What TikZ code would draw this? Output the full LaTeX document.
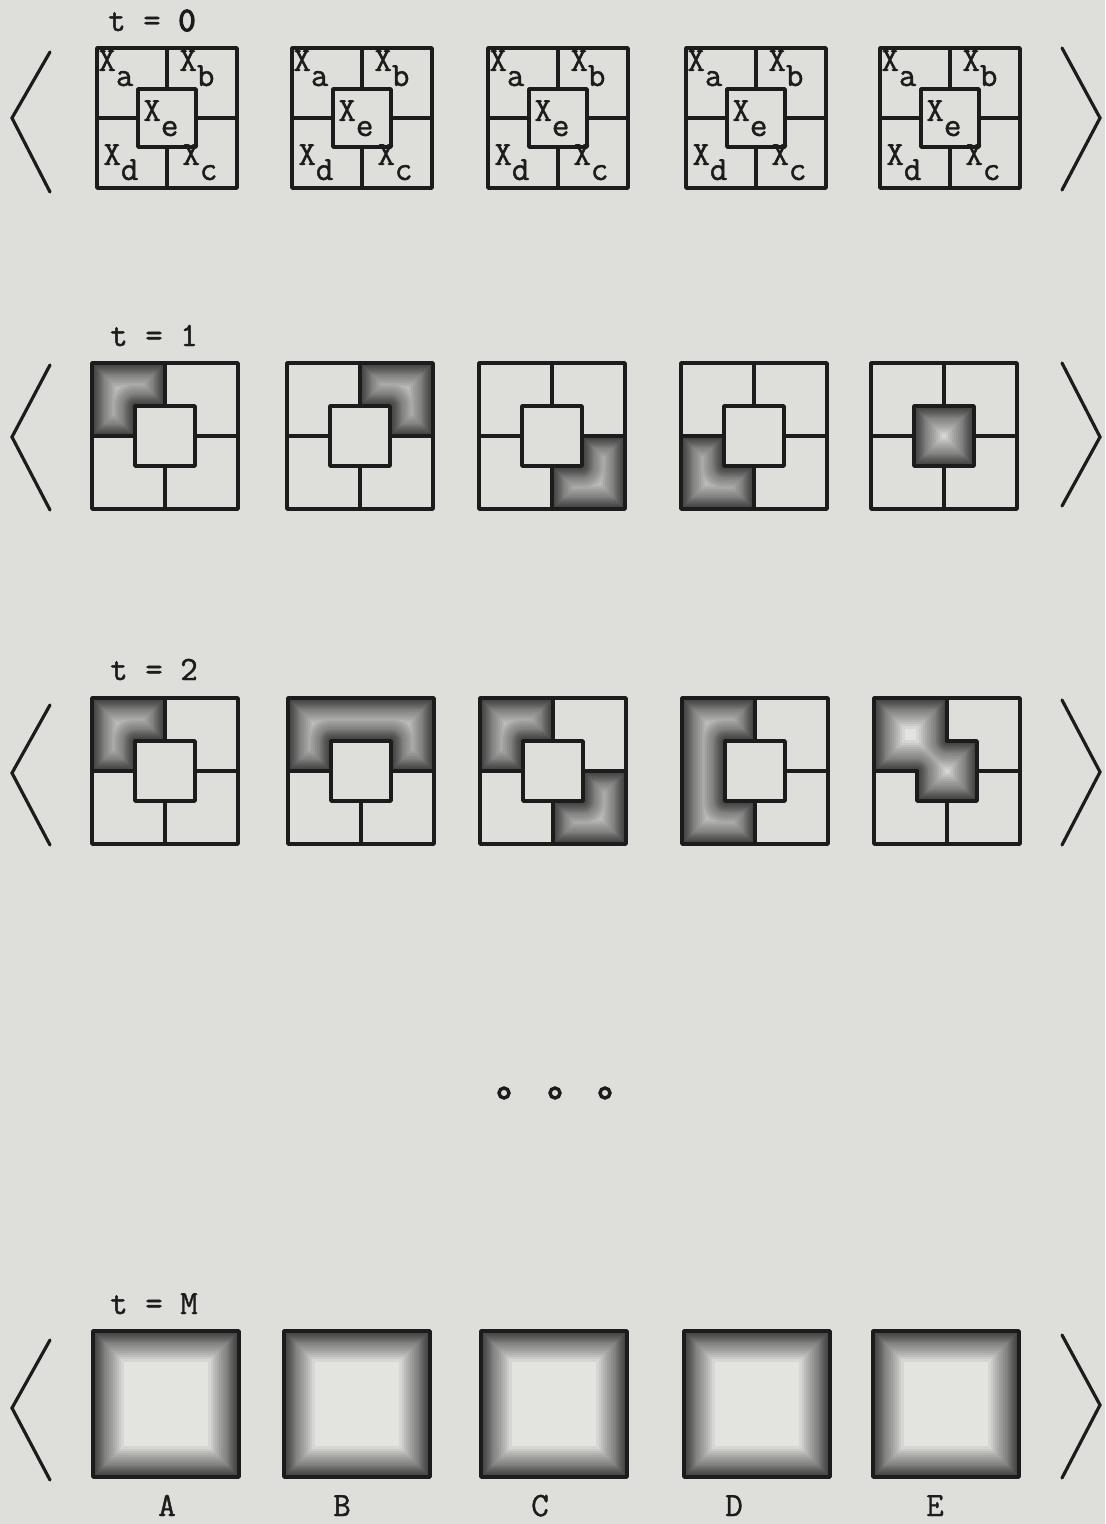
\documentclass[tikz,border=0pt]{standalone}
\usepackage{fontspec}
\newfontfamily\twfont{Latin Modern Mono}[FakeBold=1.2]
\newfontfamily\twbold{Latin Modern Mono}[FakeBold=4]
\definecolor{paper}{RGB}{222,222,218}
\definecolor{ink}{RGB}{28,28,28}
\tikzset{
  frame/.style={draw=ink, line width=1.8pt, line cap=round, line join=round},
  chev/.style={draw=ink, line width=1.6pt, line cap=round, line join=miter},
  lbl/.style={font=\fontsize{17}{19}\selectfont\twfont, text=ink, inner sep=0pt},
  ring/.style={circle, draw=ink, line width=1.7pt, minimum size=5pt, inner sep=0pt},
}
\def\Hh{73}
\def\Ss{30}
% inner-shadow shading of a region
\newcommand\Shd[1]{%
  \begin{scope}
    \clip #1;
    \fill[paper!85!white] #1;
    \foreach \w in {1,2,3,4,5,6,7,8,9,10,11,12,14,16,18,20,22,24,26,28,31}{%
      \draw[line width=\w pt, draw=black, draw opacity=0.056, line join=round] #1;}
  \end{scope}}
\newcommand\ShTL{\Shd{(-\Hh,-\Hh) -- (0,-\Hh) -- (0,-\Ss) -- (-\Ss,-\Ss) -- (-\Ss,0) -- (-\Hh,0) -- cycle}}
\newcommand\ShTR{\Shd{(0,-\Hh) -- (\Hh,-\Hh) -- (\Hh,0) -- (\Ss,0) -- (\Ss,-\Ss) -- (0,-\Ss) -- cycle}}
\newcommand\ShBR{\Shd{(\Ss,0) -- (\Hh,0) -- (\Hh,\Hh) -- (0,\Hh) -- (0,\Ss) -- (\Ss,\Ss) -- cycle}}
\newcommand\ShBL{\Shd{(-\Hh,0) -- (-\Ss,0) -- (-\Ss,\Ss) -- (0,\Ss) -- (0,\Hh) -- (-\Hh,\Hh) -- cycle}}
\newcommand\ShE{\Shd{(-\Ss,-\Ss) -- (\Ss,-\Ss) -- (\Ss,\Ss) -- (-\Ss,\Ss) -- cycle}}
\newcommand\ShTop{\Shd{(-\Hh,-\Hh) -- (\Hh,-\Hh) -- (\Hh,0) -- (\Ss,0) -- (\Ss,-\Ss) -- (-\Ss,-\Ss) -- (-\Ss,0) -- (-\Hh,0) -- cycle}}
\newcommand\ShLeft{\Shd{(-\Hh,-\Hh) -- (0,-\Hh) -- (0,-\Ss) -- (-\Ss,-\Ss) -- (-\Ss,\Ss) -- (0,\Ss) -- (0,\Hh) -- (-\Hh,\Hh) -- cycle}}
\newcommand\ShTLE{\Shd{(-\Hh,-\Hh) -- (0,-\Hh) -- (0,-\Ss) -- (\Ss,-\Ss) -- (\Ss,\Ss) -- (-\Ss,\Ss) -- (-\Ss,0) -- (-\Hh,0) -- cycle}}
\newcommand\ShAll{\Shd{(-\Hh,-\Hh) -- (\Hh,-\Hh) -- (\Hh,\Hh) -- (-\Hh,\Hh) -- cycle}}
% line pieces
\newcommand\Outer{\draw[frame] (-\Hh,-\Hh) rectangle (\Hh,\Hh);}
\newcommand\Inner{\draw[frame] (-\Ss,-\Ss) rectangle (\Ss,\Ss);}
\newcommand\Vt{\draw[frame] (0,-\Hh) -- (0,-\Ss);}
\newcommand\Vb{\draw[frame] (0,\Ss) -- (0,\Hh);}
\newcommand\Hl{\draw[frame] (-\Hh,0) -- (-\Ss,0);}
\newcommand\Hr{\draw[frame] (\Ss,0) -- (\Hh,0);}
\newcommand\Full{\Outer\Inner\Vt\Vb\Hl\Hr}
\begin{document}
\begin{tikzpicture}[x=0.5pt,y=-0.5pt]
\fill[paper] (0,0) rectangle (1105,1524);
\useasboundingbox (0,0) rectangle (1105,1524);

% ---------- chevrons ----------
\foreach \yt/\ym/\yb/\r in {52/118/192/0, 365/437/510/1, 705/773/845/2, 1340/1408/1480/3}{
  \draw[chev] (50,\yt) -- (12,\ym) -- (50,\yb);
}
\foreach \yt/\ym/\yb/\r in {48/118/190/0, 363/437/506/1, 700/772/845/2, 1335/1405/1478/3}{
  \draw[chev] (1062,\yt) -- (1100,\ym) -- (1062,\yb);
}

% ---------- row t = 0 ----------
\node[lbl, anchor=base] (t0) at (152,31) {t = {\twbold 0}};
\begingroup
\def\Hh{70}\def\Ss{29}
\foreach \cx [count=\i] in {167,362,558,756,950}{
  \begin{scope}[shift={(\cx,118)}]
    \Full
    \node[lbl, anchor=base west] (xa\i) at (-69,-47) {X\raisebox{-7.5pt}{a}};
    \node[lbl, anchor=base west] (xb\i) at (12,-47) {X\raisebox{-7.5pt}{b}};
    \node[lbl, anchor=base west] (xe\i) at (-24,3) {X\raisebox{-7.5pt}{e}};
    \node[lbl, anchor=base west] (xd\i) at (-64,47) {X\raisebox{-7.5pt}{d}};
    \node[lbl, anchor=base west] (xc\i) at (15,47) {X\raisebox{-7.5pt}{c}};
  \end{scope}
}
\endgroup

% ---------- row t = 1 ----------
\node[lbl, anchor=base] (t1) at (154,346) {t = 1};
\begin{scope}[shift={(165,436)}] \ShTL \Full \end{scope}
\begin{scope}[shift={(360,436)}] \ShTR \Full \end{scope}
\begin{scope}[shift={(552,436)}] \ShBR \Full \end{scope}
\begin{scope}[shift={(754,436)}] \ShBL \Full \end{scope}
\begin{scope}[shift={(944,436)}] \ShE \Full \end{scope}

% ---------- row t = 2 ----------
\node[lbl, anchor=base] (t2) at (154,680) {t = 2};
\begin{scope}[shift={(165,771)}] \ShTL \Full \end{scope}
\begin{scope}[shift={(361,771)}] \ShTop \Outer\Inner\Vb\Hl\Hr \end{scope}
\begin{scope}[shift={(553,771)}] \ShTL \ShBR \Full \end{scope}
\begin{scope}[shift={(755,771)}] \ShLeft \Outer\Inner\Vt\Vb\Hr \end{scope}
\begin{scope}[shift={(947,771)}] \ShTLE \Outer\Vt\Vb\Hl\Hr
  \draw[frame] (0,-\Ss) -- (\Ss,-\Ss) -- (\Ss,\Ss) -- (-\Ss,\Ss) -- (-\Ss,0);
\end{scope}

% ---------- dots ----------
\node[ring] (d1) at (504,1093) {};
\node[ring] (d2) at (555,1093) {};
\node[ring] (d3) at (605,1093) {};

% ---------- row t = M ----------
\node[lbl, anchor=base] (tM) at (154,1314) {t = M};
\foreach \cx/\nm [count=\i] in {166/A,357/B,554/C,757/D,946/E}{
  \begin{scope}[shift={(\cx,1404)}] \ShAll \Outer \end{scope}
}
\foreach \lx/\nm in {167/A,342/B,540/C,734/D,935/E}{
  \node[lbl, anchor=base] (lab\nm) at (\lx,1516) {\nm};
}
\end{tikzpicture}
\end{document}
